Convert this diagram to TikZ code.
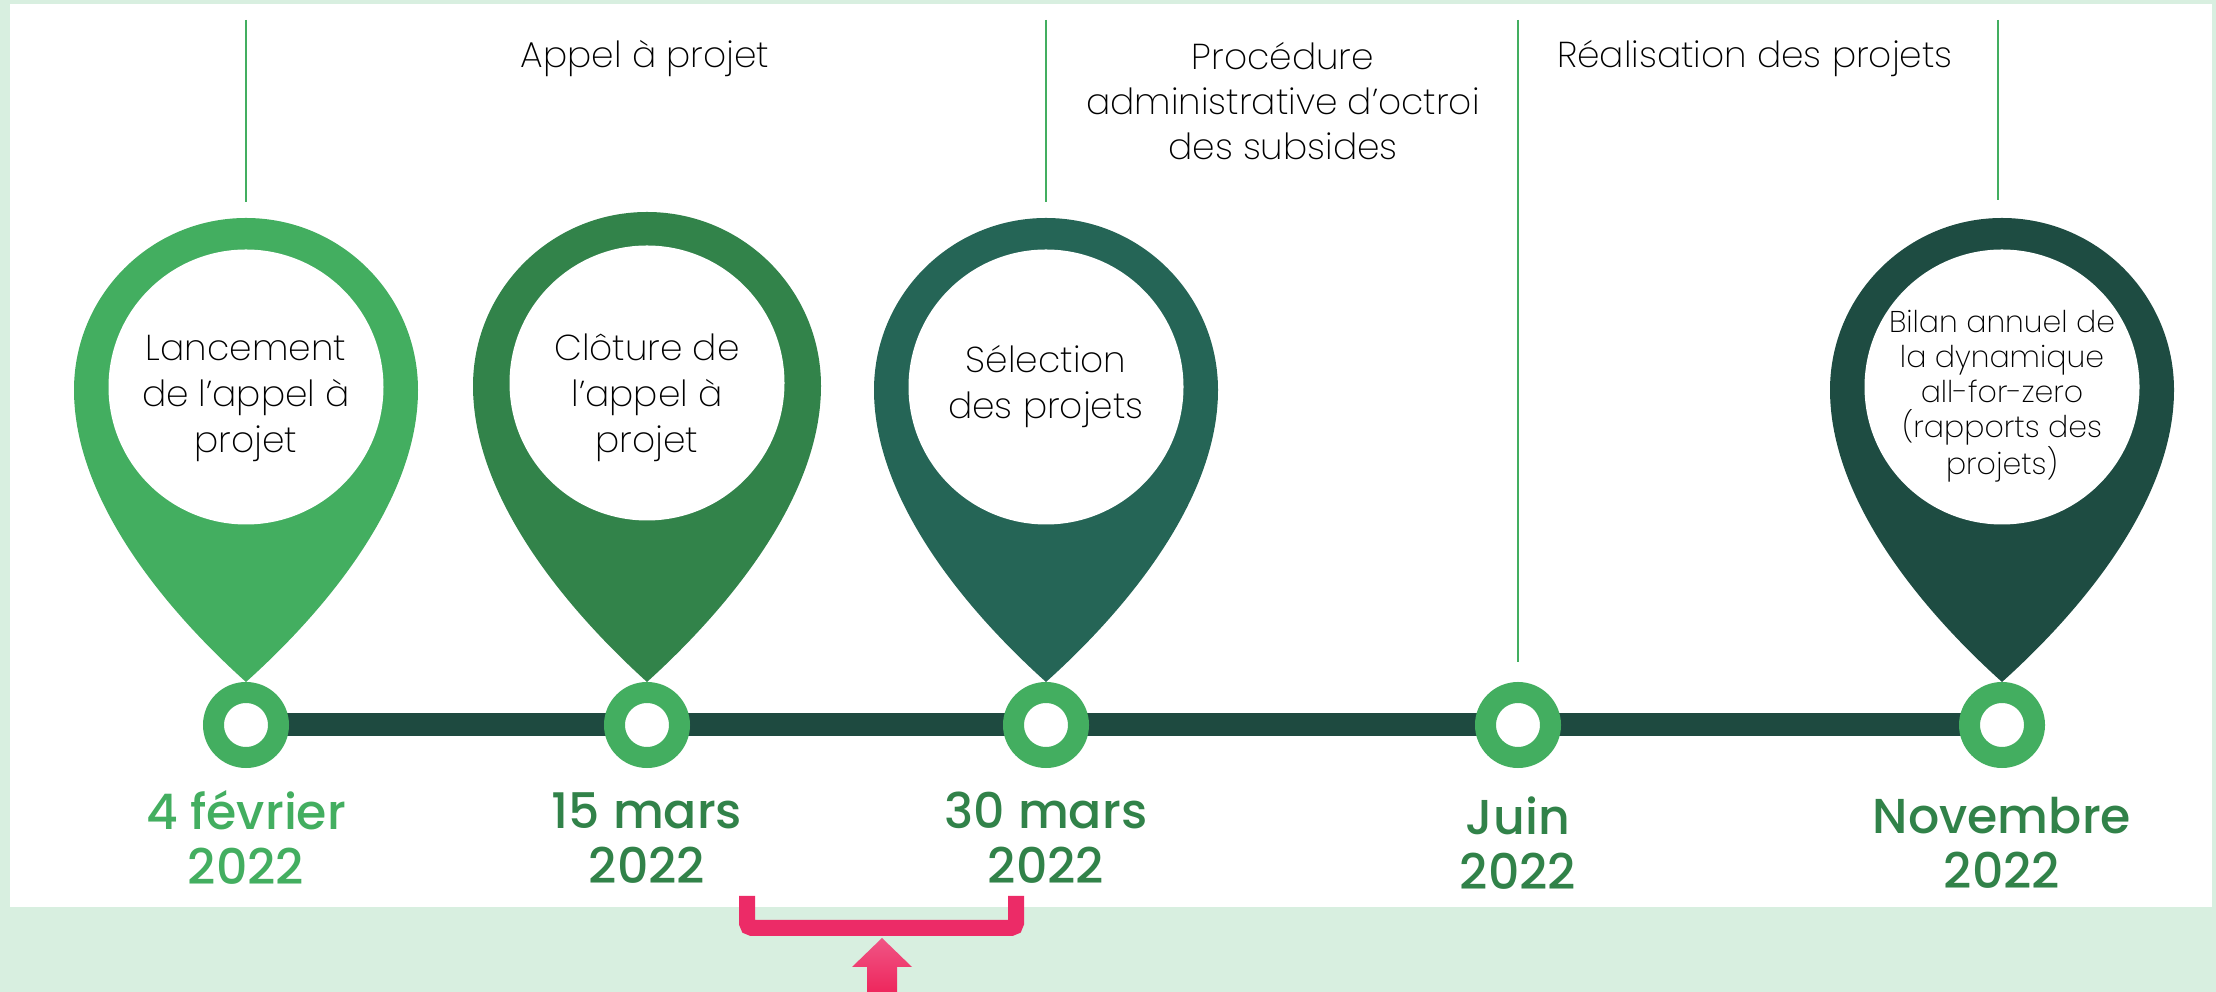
\documentclass[tikz,border=0pt]{standalone}
\usepackage{fontspec}
\setmainfont{Poppins}
\newfontfamily\poplight{Poppins ExtraLight}
\newfontfamily\popmed{Poppins Medium}
\begin{document}
\begin{tikzpicture}[x=1pt,y=1pt]
\definecolor{bgc}{HTML}{D8EFE0}
\definecolor{lgreen}{HTML}{43AE60}
\definecolor{mgreen}{HTML}{32834A}
\definecolor{tgreen}{HTML}{256556}
\definecolor{dgreen}{HTML}{1E4C42}
\definecolor{barc}{HTML}{1E4A40}
\definecolor{datec}{HTML}{318249}
\definecolor{pinkc}{HTML}{EC2B67}
\tikzset{
  ring/.style={circle, draw=lgreen, line width=21pt, fill=white, minimum size=65pt, inner sep=0pt},
  vline/.style={draw=lgreen, line width=1.5pt},
  phase/.style={font=\poplight\fontsize{36}{45}\selectfont, align=center, text=black, inner sep=0pt},
  pintext/.style={font=\poplight\fontsize{36}{46}\selectfont, align=center, text=black, inner sep=0pt},
  pinsmall/.style={font=\poplight\fontsize{30}{35}\selectfont, align=center, text=black, inner sep=0pt},
  datetxt/.style={font=\popmed\fontsize{49}{55}\selectfont, align=center, text=datec, inner sep=0pt},
}
\newcommand{\mypin}[4]{%
  \begin{scope}[shift={(#1,#2)}]
    \fill[#4] (-#3,0) arc[start angle=180, end angle=0, radius=#3]
      .. controls (#3,-0.64*#3) and (0.465*#3,-1.28*#3) .. (0,{310-#2})
      .. controls (-0.465*#3,-1.28*#3) and (-#3,-0.64*#3) .. cycle;
    \fill[white] (0,3) circle[radius=137.5];
  \end{scope}}
\useasboundingbox (0,0) rectangle (2216,992);
\fill[bgc] (0,0) rectangle (2216,992);
\fill[white] (10,85) rectangle (2212,988);
% vertical guide lines
\coordinate (v1a) at (246,972); \coordinate (v1b) at (246,790);
\coordinate (v2a) at (1046,972); \coordinate (v2b) at (1046,790);
\coordinate (v3a) at (1518,972); \coordinate (v3b) at (1518,330);
\coordinate (v4a) at (1998,972); \coordinate (v4b) at (1998,792);
\draw[vline] (v1a) -- (v1b);
\draw[vline] (v2a) -- (v2b);
\draw[vline] (v3a) -- (v3b);
\draw[vline] (v4a) -- (v4b);
% phase labels
\node[phase, anchor=base] (p1) at (645,924) {Appel à projet};
\node[phase, anchor=north] (p2) at (1283,950) {Procédure\\administrative d’octroi\\des subsides};
\node[phase, anchor=base] (p3) at (1755,924) {Réalisation des projets};
% pins
\mypin{246}{602}{172}{lgreen}
\mypin{647}{606}{174}{mgreen}
\mypin{1046}{602}{172}{tgreen}
\mypin{2002}{602}{172}{dgreen}
\node[pintext] (t1) at (246,594) {Lancement\\de l’appel à\\projet};
\node[pintext] (t2) at (647,594) {Clôture de\\l’appel à\\projet};
\node[pintext] (t3) at (1046,605) {Sélection\\des projets};
\node[pinsmall] (t5) at (2002,596) {Bilan annuel de\\la dynamique\\all-for-zero\\(rapports des\\projets)};
% timeline bar
\coordinate (c1) at (246,267);
\coordinate (c2) at (647,267);
\coordinate (c3) at (1046,267);
\coordinate (c4) at (1518,267);
\coordinate (c5) at (2002,267);
\draw[barc, line width=23pt] (c1) -- (c5);
\node[ring] (r1) at (c1) {};
\node[ring] (r2) at (c2) {};
\node[ring] (r3) at (c3) {};
\node[ring] (r4) at (c4) {};
\node[ring] (r5) at (c5) {};
% dates
\node[datetxt, text=lgreen] (d1) at (246,154) {4 février\\2022};
\node[datetxt] (d2) at (647,154) {15 mars\\2022};
\node[datetxt] (d3) at (1046,154) {30 mars\\2022};
\node[datetxt] (d4) at (1518,149) {Juin\\2022};
\node[datetxt] (d5) at (2002,149) {Novembre\\2022};
% bracket and arrow
\coordinate (b1) at (747,96);
\coordinate (b2) at (747,64);
\coordinate (b3) at (1016,64);
\coordinate (b4) at (1016,96);
\draw[pinkc, line width=16pt, rounded corners=5pt] (b1) -- (b2) -- (b3) -- (b4);
\coordinate (atip) at (882,54);
\shade[top color=pinkc!80!white, bottom color=pinkc!90!red]
  (atip) -- (912,25) -- (897,25) -- (897,0) -- (867,0) -- (867,25) -- (852,25) -- cycle;
\end{tikzpicture}
\end{document}
